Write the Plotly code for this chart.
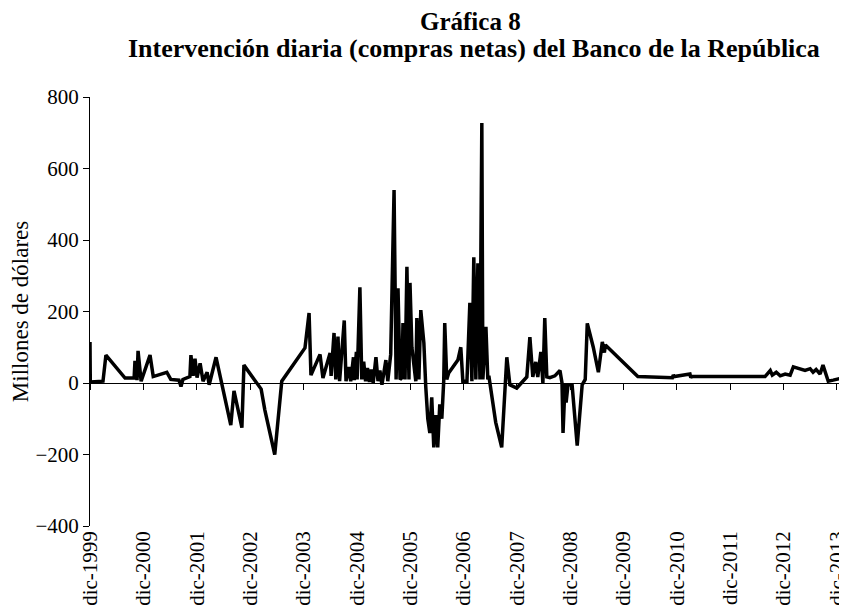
import plotly.graph_objects as go

# Intervención diaria del Banco de la República (millones de dólares)
fechas = [
    "1999-12-01", "1999-12-03", "2000-02-28", "2000-03-19", "2000-07-28", "2000-09-28",
    "2000-10-04", "2000-10-18", "2000-10-25", "2000-11-15", "2001-01-15", "2001-02-06",
    "2001-05-10", "2001-06-06", "2001-08-01", "2001-08-15", "2001-08-28", "2001-10-15",
    "2001-10-22", "2001-11-06", "2001-11-19", "2001-12-03", "2001-12-24", "2002-01-13",
    "2002-02-10", "2002-02-24", "2002-04-12", "2002-07-22", "2002-08-13", "2002-10-06",
    "2002-10-20", "2003-02-15", "2003-03-12", "2003-05-19", "2003-07-06", "2003-12-12",
    "2004-01-09", "2004-01-22", "2004-03-24", "2004-04-13", "2004-06-01", "2004-06-08",
    "2004-06-28", "2004-07-10", "2004-07-25", "2004-08-05", "2004-09-06", "2004-09-18",
    "2004-10-08", "2004-10-20", "2004-11-08", "2004-11-14", "2004-11-28", "2004-12-03",
    "2004-12-22", "2005-01-04", "2005-01-17", "2005-01-30", "2005-02-12", "2005-02-25",
    "2005-03-10", "2005-03-23", "2005-04-11", "2005-04-25", "2005-05-08", "2005-05-22",
    "2005-06-18", "2005-07-01", "2005-07-21", "2005-08-13", "2005-08-27", "2005-09-09",
    "2005-09-23", "2005-10-06", "2005-10-13", "2005-10-27", "2005-11-09", "2005-11-23",
    "2005-11-30", "2005-12-13", "2005-12-27", "2006-01-09", "2006-01-16", "2006-01-30",
    "2006-02-12", "2006-03-05", "2006-03-18", "2006-04-01", "2006-04-15", "2006-04-28",
    "2006-05-12", "2006-05-26", "2006-06-08", "2006-06-22", "2006-07-06", "2006-07-19",
    "2006-07-26", "2006-08-09", "2006-08-22", "2006-10-24", "2006-11-13", "2006-11-27",
    "2006-12-25", "2007-01-14", "2007-01-28", "2007-02-10", "2007-02-24", "2007-03-10",
    "2007-03-24", "2007-04-06", "2007-04-13", "2007-05-04", "2007-05-17", "2007-05-24",
    "2007-07-10", "2007-08-20", "2007-09-24", "2007-10-15", "2007-12-01", "2008-02-08",
    "2008-02-29", "2008-03-20", "2008-04-09", "2008-04-23", "2008-05-14", "2008-05-28",
    "2008-06-10", "2008-06-24", "2008-07-15", "2008-08-18", "2008-09-22", "2008-10-06",
    "2008-10-13", "2008-10-27", "2008-11-03", "2008-11-16", "2008-12-14", "2009-01-18",
    "2009-02-21", "2009-03-14", "2009-03-28", "2009-05-08", "2009-06-12", "2009-07-09",
    "2009-07-23", "2009-07-30", "2010-03-09", "2010-11-01", "2010-11-07", "2010-11-14",
    "2011-03-01", "2011-03-07", "2011-03-14", "2012-07-27", "2012-09-01", "2012-09-15",
    "2012-10-12", "2012-11-08", "2012-12-12", "2013-01-15", "2013-02-06", "2013-02-27",
    "2013-03-24", "2013-04-27", "2013-06-01", "2013-06-21", "2013-07-12", "2013-08-08",
    "2013-08-28", "2013-09-18", "2013-10-03", "2013-11-06", "2013-12-10", "2014-01-06",
]
valores = [
    115, 3, 5, 78, 14, 14,
    62, 8, 90, 5, 78, 18,
    30, 10, 8, -10, 10, 18,
    78, 20, 68, 15, 55, 5,
    30, -5, 72, -118, -22, -125,
    50, -17, -75, -200, 5, 98,
    196, 22, 80, 14, 84, 20,
    140, 10, 130, 5, 175, 5,
    45, 5, 72, 8, 87, 10,
    268, 10, 60, 5, 42, 3,
    38, 0, 72, 5, 35, -5,
    64, 5, 80, 540, 10, 265,
    10, 15, 168, 10, 325, 10,
    280, 100, 50, 5, 182, 10,
    204, 112, -10, -100, -140, -40,
    -180, -90, -180, -60, -100, 5,
    168, 10, 28, 64, 100, 5,
    5, 224, 5, 352, 10, 335,
    10, 727, 10, 157, 10, 20,
    -110, -180, 72, -5, -14, 17,
    128, 17, 59, 17, 87, 0,
    182, 17, 15, 20, 35, 0,
    -140, 0, -55, -5, -5, -175,
    -5, 10, 167, 100, 30, 115,
    85, 106, 18, 15, 22, 18,
    25, 15, 18, 18, 35, 22,
    30, 20, 25, 22, 45, 42,
    40, 35, 40, 30, 38, 25,
    50, 20, 5, 8, 12, 14,
]

marcas = ["%d-12-01" % a for a in range(1999, 2014)]
etiquetas = ["dic-%d" % a for a in range(1999, 2014)]

fuente = "Liberation Serif"

fig = go.Figure()
fig.add_trace(go.Scatter(x=fechas, y=valores, mode="lines",
                         line=dict(color="black", width=3.5), showlegend=False))
# traza vacía para que se dibuje el eje en y=0
fig.add_trace(go.Scatter(x=[fechas[0]], y=[0], xaxis="x2", mode="lines",
                         showlegend=False, hoverinfo="skip"))

# título en dos líneas
fig.add_annotation(text="<b>Gráfica 8</b>", xref="paper", yref="paper",
                   x=0.505, y=1.177, xanchor="center", yanchor="middle",
                   showarrow=False, font=dict(family=fuente, size=25))
fig.add_annotation(text="<b>Intervención diaria (compras netas) del Banco de la República</b>",
                   xref="paper", yref="paper", x=0.51, y=1.112,
                   xanchor="center", yanchor="middle",
                   showarrow=False, font=dict(family=fuente, size=26))

fig.update_layout(
    width=847, height=601,
    paper_bgcolor="white", plot_bgcolor="white",
    margin=dict(l=82, r=12, t=89, b=83),
    font=dict(family=fuente, size=21, color="black"),
    xaxis=dict(type="date", range=["1999-12-01", "2014-01-12"],
               tickvals=marcas, ticktext=etiquetas, tickangle=-90,
               showline=False, ticks="", showgrid=False, zeroline=False,
               tickfont=dict(size=21), automargin=False,
               ticklabeloverflow="allow"),
    xaxis2=dict(type="date", overlaying="x", matches="x", anchor="free",
                position=1 / 3, side="bottom", showline=True, linecolor="black",
                linewidth=1, ticks="outside", ticklen=6, tickcolor="black",
                tickvals=marcas, showticklabels=False, showgrid=False,
                zeroline=False),
    yaxis=dict(range=[-400, 800], dtick=200, showline=True, linecolor="black",
               linewidth=1, ticks="outside", ticklen=6, tickcolor="black",
               showgrid=False, zeroline=False, tickfont=dict(size=21),
               title=dict(text="Millones de dólares", font=dict(size=23), standoff=8),
               automargin=False),
)

fig.write_html("out.html")
